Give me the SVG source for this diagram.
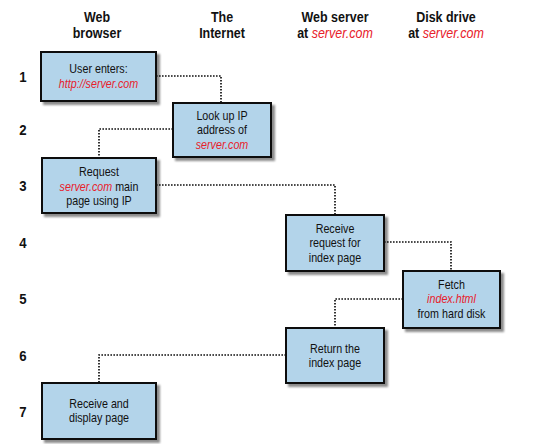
<svg xmlns="http://www.w3.org/2000/svg" width="543" height="444" viewBox="0 0 543 444">
<defs>
<filter id="sh" x="-10%" y="-10%" width="130%" height="130%">
<feDropShadow dx="3" dy="3" stdDeviation="1.2" flood-color="#000" flood-opacity="0.45"/>
</filter>
<style>
.box{fill:#b3d4ea;stroke:#111;stroke-width:2;filter:url(#sh)}
.t{font-family:"Liberation Sans",Arial,sans-serif;font-size:13.4px;fill:#111;text-anchor:middle}
.h{font-family:"Liberation Sans",Arial,sans-serif;font-size:15.4px;font-weight:bold;fill:#111;text-anchor:middle}
.n{font-family:"Liberation Sans",Arial,sans-serif;font-size:15.5px;font-weight:bold;fill:#111;text-anchor:middle}
.r{fill:#e8202a;font-style:italic;font-weight:normal}
.c{fill:none;stroke:#111;stroke-width:1.7;stroke-dasharray:1.6 1.4}
</style>
</defs>
<g id="headers">
<text class="h" transform="translate(97,21.5) scale(0.81,1)">Web</text>
<text class="h" transform="translate(97,38) scale(0.81,1)">browser</text>
<text class="h" transform="translate(222,21.5) scale(0.81,1)">The</text>
<text class="h" transform="translate(222,38) scale(0.81,1)">Internet</text>
<text class="h" transform="translate(335,21.5) scale(0.81,1)">Web server</text>
<text class="h" transform="translate(335,38) scale(0.81,1)">at <tspan class="r">server.com</tspan></text>
<text class="h" transform="translate(446,21.5) scale(0.81,1)">Disk drive</text>
<text class="h" transform="translate(446,38) scale(0.81,1)">at <tspan class="r">server.com</tspan></text>
</g>
<g id="steps">
<text class="n" transform="translate(23,82) scale(0.85,1)">1</text>
<text class="n" transform="translate(23,135) scale(0.85,1)">2</text>
<text class="n" transform="translate(23,191) scale(0.85,1)">3</text>
<text class="n" transform="translate(23,248) scale(0.85,1)">4</text>
<text class="n" transform="translate(23,304) scale(0.85,1)">5</text>
<text class="n" transform="translate(23,361) scale(0.85,1)">6</text>
<text class="n" transform="translate(23,417) scale(0.85,1)">7</text>
</g>
<g id="connectors">
<path class="c" d="M156 76 H221 V103"/>
<path class="c" d="M173 129 H99 V158"/>
<path class="c" d="M156 185 H335 V215"/>
<path class="c" d="M384 242 H451 V271"/>
<path class="c" d="M403 299 H335 V328"/>
<path class="c" d="M286 355 H99 V383"/>
</g>
<g id="n1">
<rect class="box" x="41" y="52" width="115" height="49"/>
<text class="t" transform="translate(98.5,73) scale(0.8,1)">User enters:</text>
<text class="t r" transform="translate(98.5,88) scale(0.8,1)">http://server.com</text>
</g>
<g id="n2">
<rect class="box" x="173" y="103" width="98" height="54"/>
<text class="t" transform="translate(222,120) scale(0.8,1)">Look up IP</text>
<text class="t" transform="translate(222,134) scale(0.8,1)">address of</text>
<text class="t r" transform="translate(222,148.5) scale(0.8,1)">server.com</text>
</g>
<g id="n3">
<rect class="box" x="42" y="158" width="114" height="55"/>
<text class="t" transform="translate(99,176) scale(0.8,1)">Request</text>
<text class="t" transform="translate(99,191) scale(0.8,1)"><tspan class="r">server.com</tspan> main</text>
<text class="t" transform="translate(99,205) scale(0.8,1)">page using IP</text>
</g>
<g id="n4">
<rect class="box" x="286" y="215" width="98" height="56"/>
<text class="t" transform="translate(335,233) scale(0.8,1)">Receive</text>
<text class="t" transform="translate(335,247) scale(0.8,1)">request for</text>
<text class="t" transform="translate(335,261.5) scale(0.8,1)">index page</text>
</g>
<g id="n5">
<rect class="box" x="403" y="271" width="97" height="57"/>
<text class="t" transform="translate(451.5,289) scale(0.8,1)">Fetch</text>
<text class="t r" transform="translate(451.5,303) scale(0.8,1)">index.html</text>
<text class="t" transform="translate(451.5,317.5) scale(0.8,1)">from hard disk</text>
</g>
<g id="n6">
<rect class="box" x="286" y="328" width="98" height="55"/>
<text class="t" transform="translate(335,353) scale(0.8,1)">Return the</text>
<text class="t" transform="translate(335,367) scale(0.8,1)">index page</text>
</g>
<g id="n7">
<rect class="box" x="42" y="383" width="114" height="56"/>
<text class="t" transform="translate(99,408) scale(0.8,1)">Receive and</text>
<text class="t" transform="translate(99,422) scale(0.8,1)">display page</text>
</g>
</svg>
